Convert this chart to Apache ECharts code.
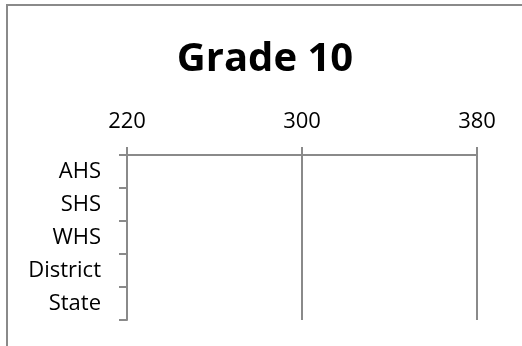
<!DOCTYPE html>
<html>
<head>
<meta charset="utf-8">
<script src="https://cdn.jsdelivr.net/npm/echarts@6/dist/echarts.min.js"></script>
<style>
html,body{margin:0;padding:0;background:#fff;overflow:hidden;}
#chart{width:522px;height:346px;}
</style>
</head>
<body>
<div id="chart"></div>
<script>
const titleText = 'Grade 10';
const categories = ['AHS', 'SHS', 'WHS', 'District', 'State'];
const scoreValues = [null, null, null, null, null];
const axisMin = 220;
const axisMax = 380;
const axisStep = 80;

const gray = '#8a8a8a';
const font = 'Open Sans';

const chart = echarts.init(document.getElementById('chart'), null, {renderer: 'canvas'});
chart.setOption({
  animation: false,
  backgroundColor: '#ffffff',
  title: {
    text: titleText,
    left: 260,
    top: 35,
    textAlign: 'center',
    textStyle: {fontFamily: font, fontWeight: 'bold', fontSize: 40, color: '#000'}
  },
  graphic: [{
    type: 'rect',
    shape: {x: 7, y: 5, width: 700, height: 500},
    style: {fill: 'none', stroke: gray, lineWidth: 2},
    silent: true
  }],
  grid: {left: 127, right: 45, top: 155, bottom: 26, containLabel: false},
  xAxis: {
    type: 'value',
    position: 'top',
    min: axisMin,
    max: axisMax,
    interval: axisStep,
    axisLine: {show: true, lineStyle: {color: gray, width: 2}},
    axisTick: {show: true, length: 8, inside: false, lineStyle: {color: gray, width: 2}},
    splitLine: {show: true, lineStyle: {color: gray, width: 2}},
    axisLabel: {margin: 22, fontFamily: font, fontSize: 22, color: '#000'}
  },
  yAxis: {
    type: 'category',
    inverse: true,
    data: categories,
    axisLine: {show: true, lineStyle: {color: gray, width: 2}},
    axisTick: {show: true, length: 8, inside: false, alignWithLabel: false, lineStyle: {color: gray, width: 2}},
    splitLine: {show: false},
    axisLabel: {margin: 26, fontFamily: font, fontSize: 22, color: '#000'}
  },
  series: [{
    type: 'bar',
    data: scoreValues,
    itemStyle: {color: '#4472C4'}
  }]
});
</script>
</body>
</html>
